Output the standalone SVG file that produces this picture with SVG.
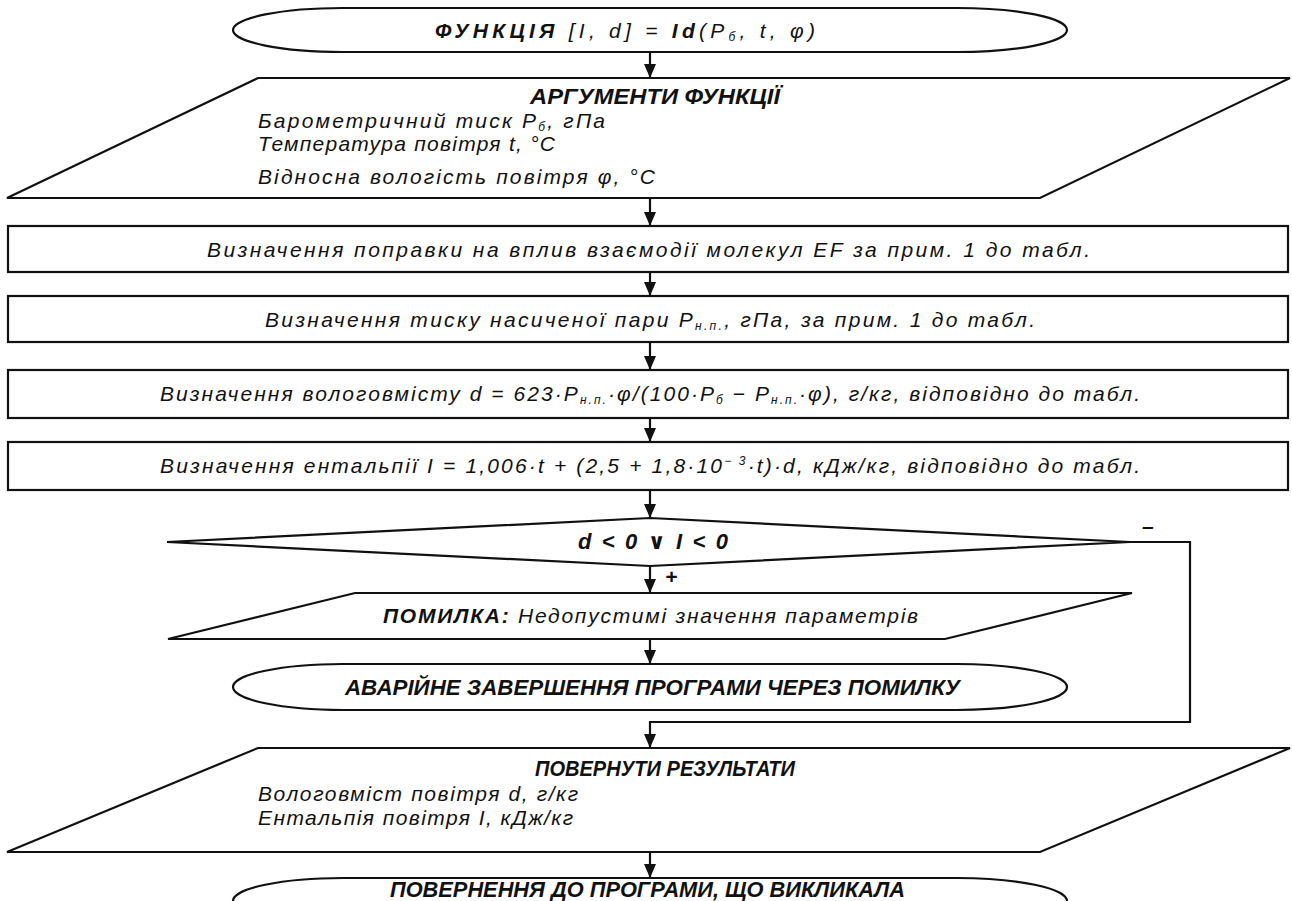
<svg xmlns="http://www.w3.org/2000/svg" width="1292" height="901" viewBox="0 0 1292 901">
<style>
.s{fill:#fff;stroke:#111;stroke-width:2.2}
.c{fill:none;stroke:#111;stroke-width:2.2}
text{font-family:"Liberation Sans","DejaVu Sans",sans-serif;font-style:italic;fill:#111;font-size:21px}
.b{font-weight:bold}
.t{font-weight:bold;font-size:22px}
.sub{font-size:12px}
</style>
<g id="connectors">
<path class="c" d="M650,52 V78"/>
<path class="c" d="M650,198 V226"/>
<path class="c" d="M650,272 V296"/>
<path class="c" d="M650,342 V370"/>
<path class="c" d="M650,418 V442"/>
<path class="c" d="M650,490 V518"/>
<path class="c" d="M650,566 V593"/>
<path class="c" d="M650,639 V664"/>
<path class="c" d="M1130,542 H1190 V722 H650 V748"/>
<path class="c" d="M650,852 V878"/>
<g fill="#111">
<path d="M644,64 L656,64 L650,78 Z"/>
<path d="M644,212 L656,212 L650,226 Z"/>
<path d="M644,282 L656,282 L650,296 Z"/>
<path d="M644,356 L656,356 L650,370 Z"/>
<path d="M644,428 L656,428 L650,442 Z"/>
<path d="M644,504 L656,504 L650,518 Z"/>
<path d="M644,579 L656,579 L650,593 Z"/>
<path d="M644,650 L656,650 L650,664 Z"/>
<path d="M644,734 L656,734 L650,748 Z"/>
<path d="M644,864 L656,864 L650,878 Z"/>
</g>
<text x="665" y="584" class="b" font-size="15">+</text>
<text x="1142" y="533" class="b" font-size="15">–</text>
</g>
<g id="start">
<path class="s" d="M343,8 H957 A110,22 0 0 1 957,52 H343 A110,22 0 0 1 343,8 Z"/>
<text x="435" y="38" textLength="380" lengthAdjust="spacing"><tspan class="b">ФУНКЦІЯ</tspan> [I, d] = <tspan class="b">Id</tspan>(P<tspan class="sub" dy="3">б</tspan><tspan dy="-3">, t, φ)</tspan></text>
</g>
<g id="args">
<path class="s" d="M258,78 H1290 L1040,198 H7 Z"/>
<text x="530" y="104" class="t" textLength="250" lengthAdjust="spacingAndGlyphs">АРГУМЕНТИ ФУНКЦІЇ</text>
<text x="258" y="128" textLength="347" lengthAdjust="spacing">Барометричний тиск P<tspan class="sub" dy="3">б</tspan><tspan dy="-3">, гПа</tspan></text>
<text x="258" y="151" textLength="297" lengthAdjust="spacing">Температура повітря t, °C</text>
<text x="258" y="184" textLength="397" lengthAdjust="spacing">Відносна вологість повітря φ, °C</text>
</g>
<g id="ef">
<rect class="s" x="8" y="226" width="1280" height="46"/>
<text x="207" y="257" textLength="883" lengthAdjust="spacing">Визначення поправки на вплив взаємодії молекул EF за прим. 1 до табл.</text>
</g>
<g id="pnp">
<rect class="s" x="8" y="296" width="1280" height="46"/>
<text x="265" y="327" textLength="770" lengthAdjust="spacing">Визначення тиску насиченої пари P<tspan class="sub" dy="3">н.п.</tspan><tspan dy="-3">, гПа, за прим. 1 до табл.</tspan></text>
</g>
<g id="dcalc">
<rect class="s" x="8" y="370" width="1280" height="48"/>
<text x="160" y="401" textLength="980" lengthAdjust="spacing">Визначення вологовмісту d = 623·P<tspan class="sub" dy="3">н.п.</tspan><tspan dy="-3">·φ/(100·P</tspan><tspan class="sub" dy="3">б</tspan><tspan dy="-3"> − P</tspan><tspan class="sub" dy="3">н.п.</tspan><tspan dy="-3">·φ), г/кг, відповідно до табл.</tspan></text>
</g>
<g id="icalc">
<rect class="s" x="8" y="442" width="1280" height="48"/>
<text x="160" y="473" textLength="980" lengthAdjust="spacing">Визначення ентальпії I = 1,006·t + (2,5 + 1,8·10<tspan class="sub" dy="-8">− 3</tspan><tspan dy="8">·t)·d, кДж/кг, відповідно до табл.</tspan></text>
</g>
<g id="check">
<path class="s" d="M650,518 L1130,542 L650,566 L167,542 Z"/>
<text x="578" y="549" class="t" textLength="150" lengthAdjust="spacing">d &lt; 0 ∨ I &lt; 0</text>
</g>
<g id="error">
<path class="s" d="M355,593 H1132 L945,639 H168 Z"/>
<text x="383" y="623" textLength="535" lengthAdjust="spacing"><tspan class="b">ПОМИЛКА:</tspan> Недопустимі значення параметрів</text>
</g>
<g id="abort">
<path class="s" d="M343,664 H957 A110,23 0 0 1 957,710 H343 A110,23 0 0 1 343,664 Z"/>
<text x="345" y="695" class="t" textLength="615" lengthAdjust="spacingAndGlyphs">АВАРІЙНЕ ЗАВЕРШЕННЯ ПРОГРАМИ ЧЕРЕЗ ПОМИЛКУ</text>
</g>
<g id="result">
<path class="s" d="M258,748 H1290 L1040,852 H7 Z"/>
<text x="535" y="776" class="t" textLength="260" lengthAdjust="spacingAndGlyphs">ПОВЕРНУТИ РЕЗУЛЬТАТИ</text>
<text x="258" y="801" textLength="320" lengthAdjust="spacing">Вологовміст повітря d, г/кг</text>
<text x="258" y="825" textLength="315" lengthAdjust="spacing">Ентальпія повітря I, кДж/кг</text>
</g>
<g id="return">
<path class="s" d="M343,878 H957 A110,23 0 0 1 957,924 H343 A110,23 0 0 1 343,878 Z"/>
<text x="390" y="897" class="t" textLength="515" lengthAdjust="spacingAndGlyphs">ПОВЕРНЕННЯ ДО ПРОГРАМИ, ЩО ВИКЛИКАЛА</text>
</g>
</svg>
